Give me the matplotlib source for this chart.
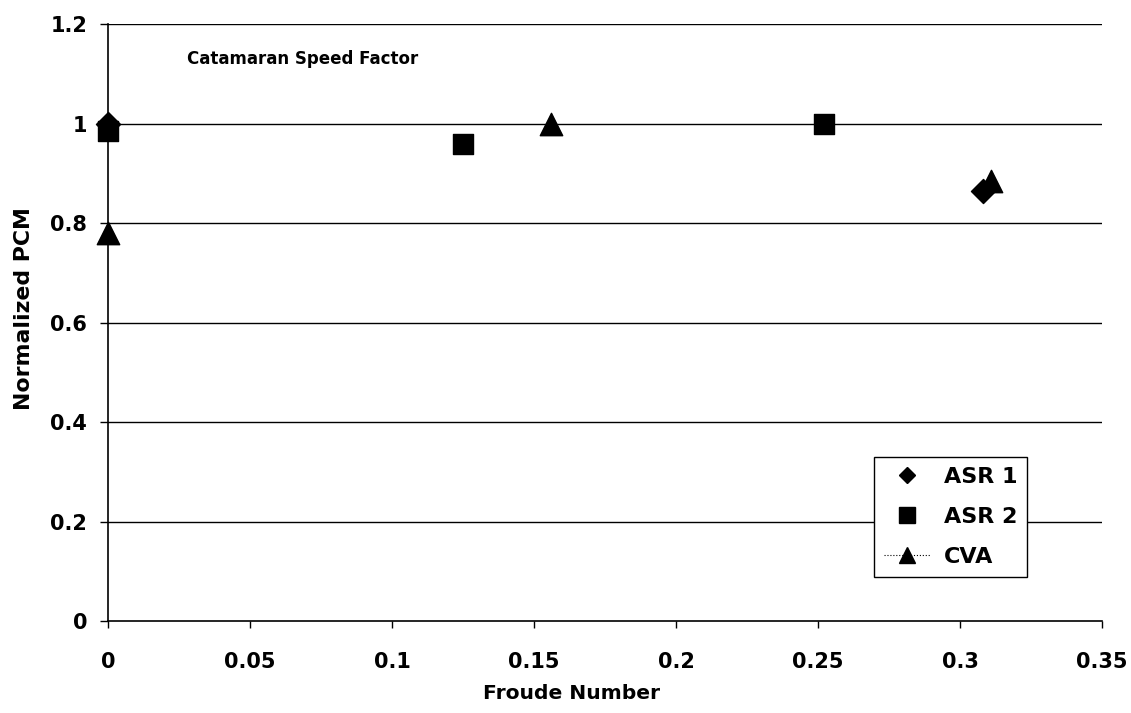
import matplotlib
matplotlib.use('Agg')
import matplotlib.pyplot as plt
from matplotlib.lines import Line2D

# data
asr1_x = [0.0, 0.308]
asr1_y = [1.0, 0.865]
asr2_x = [0.0, 0.125, 0.252]
asr2_y = [0.985, 0.96, 1.0]
cva_x = [0.0, 0.156, 0.311]
cva_y = [0.78, 1.0, 0.885]

x_ticks = [0, 0.05, 0.1, 0.15, 0.2, 0.25, 0.3, 0.35]
x_labels = ['0', '0.05', '0.1', '0.15', '0.2', '0.25', '0.3', '0.35']
y_ticks = [0, 0.2, 0.4, 0.6, 0.8, 1.0, 1.2]
y_labels = ['0', '0.2', '0.4', '0.6', '0.8', '1', '1.2']

plt.rcParams['font.family'] = ['DejaVu Sans']
plt.rcParams['font.weight'] = 'bold'

fig = plt.figure(figsize=(11.31, 7.13), dpi=100)
ax = fig.add_axes([0.0955, 0.129, 0.879, 0.837])

# horizontal gridlines
for yv in y_ticks[1:]:
    ax.axhline(yv, color='black', linewidth=1.0, zorder=1)

ax.scatter(asr1_x, asr1_y, marker='D', s=150, color='black', zorder=3, clip_on=False)
ax.scatter(asr2_x, asr2_y, marker='s', s=210, color='black', zorder=4, clip_on=False)
ax.scatter(cva_x, cva_y, marker='^', s=260, color='black', zorder=3, clip_on=False)

ax.set_xlim(0, 0.35)
ax.set_ylim(0, 1.2)
ax.set_xticks(x_ticks)
ax.set_xticklabels(x_labels, fontsize=15, fontweight='bold')
ax.set_yticks(y_ticks)
ax.set_yticklabels(y_labels, fontsize=15, fontweight='bold')
ax.tick_params(axis='x', direction='out', length=5, width=1, color='black', pad=17)
ax.tick_params(axis='y', direction='out', length=6, width=1, color='black', pad=9)

ax.spines['top'].set_visible(False)
ax.spines['right'].set_visible(False)
ax.spines['left'].set_linewidth(1.2)
ax.spines['bottom'].set_linewidth(1.2)

ax.set_xlabel('Froude Number', fontsize=14.6, fontweight='bold')
ax.xaxis.set_label_coords(0.466, -0.105)
ax.set_ylabel('Normalized PCM', fontsize=15.8, fontweight='bold')
ax.yaxis.set_label_coords(-0.074, 0.523)

ax.text(0.0278, 1.131, 'Catamaran Speed Factor', fontsize=12, fontweight='bold', va='center')

handles = [
    Line2D([], [], marker='D', color='black', linestyle='none', markersize=8),
    Line2D([], [], marker='s', color='black', linestyle='none', markersize=11),
    Line2D([], [], marker='^', color='black', linestyle=':', linewidth=0.8, markersize=12),
]
leg = ax.legend(handles, ['ASR 1', 'ASR 2', 'CVA'], loc='lower right',
                bbox_to_anchor=(0.9245, 0.0737), borderaxespad=0, fontsize=16,
                frameon=True, fancybox=False, edgecolor='black', framealpha=1,
                handlelength=2.1, handletextpad=0.6, labelspacing=0.9,
                borderpad=0.45)
leg.get_frame().set_linewidth(1.0)
leg.set_zorder(5)

plt.savefig('out.png', dpi=100)
